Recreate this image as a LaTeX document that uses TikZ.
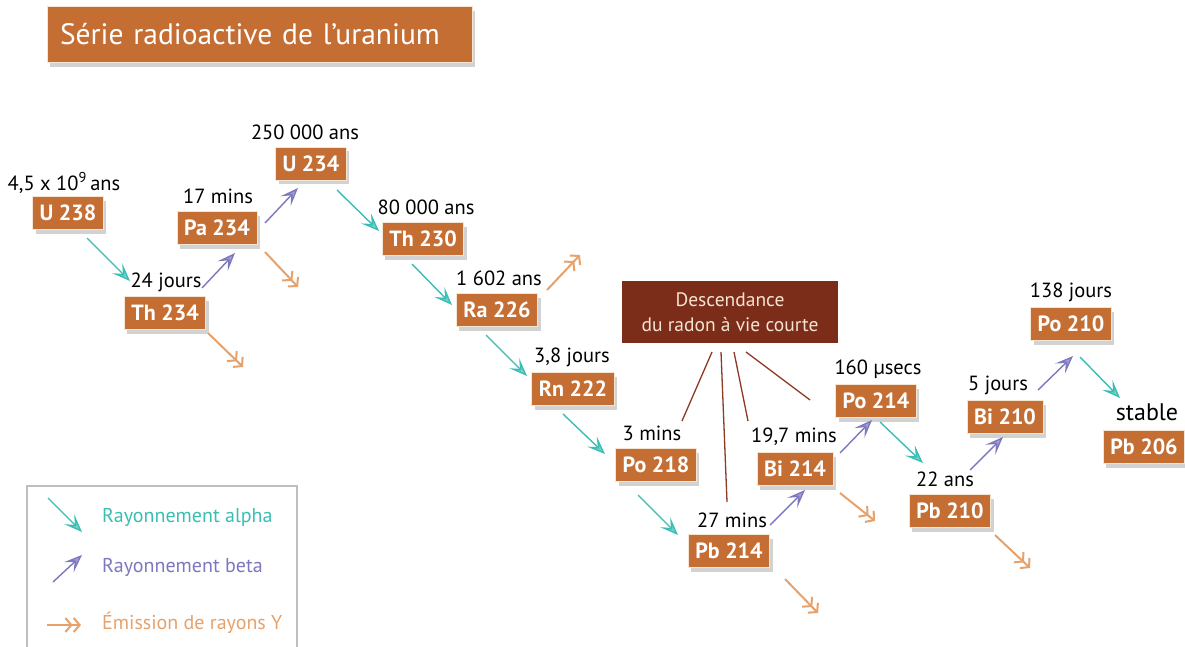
\documentclass[tikz,border=0pt]{standalone}
\usepackage{fontspec}
\setmainfont{PT Sans}
\usetikzlibrary{arrows.meta,shadows}
\definecolor{boxor}{RGB}{197,110,52}
\definecolor{boxedge}{RGB}{245,230,212}
\definecolor{descc}{RGB}{123,45,26}
\definecolor{desctext}{RGB}{245,228,210}
\definecolor{alphac}{RGB}{58,190,180}
\definecolor{betac}{RGB}{125,120,190}
\definecolor{gammac}{RGB}{230,162,108}
\definecolor{linkc}{RGB}{140,58,38}
\definecolor{legc}{RGB}{190,190,190}
\begin{document}
\begin{tikzpicture}[x=1pt,y=-1pt,
  iso/.style={fill=boxor, draw=boxedge, line width=0.8pt, text=white,
    font=\bfseries\fontsize{22}{24}\selectfont, minimum height=33pt, inner xsep=7pt,
    drop shadow={shadow xshift=3pt, shadow yshift=-4pt, opacity=0.35}},
  lab/.style={text=black, font=\fontsize{20.5}{24}\selectfont, inner sep=0pt},
  alpha/.style={draw=alphac, line width=1.4pt,
    -{Stealth[length=18pt,width=14pt,inset=8pt,fill=alphac!70]}},
  beta/.style={draw=betac, line width=1.4pt,
    -{Stealth[length=18pt,width=14pt,inset=8pt,fill=betac!70]}},
  gamma/.style={draw=gammac, line width=2pt,
    -{Straight Barb[length=6pt,width=14pt] Straight Barb[length=6pt,width=14pt]}},
  link/.style={draw=linkc, line width=1.3pt},
  legtext/.style={font=\fontsize{20}{24}\selectfont, anchor=west, inner sep=0pt}
]
\useasboundingbox (0,0) rectangle (1185,647);
\fill[white] (0,0) rectangle (1185,647);

% title
\node[fill=boxor, draw=boxedge, line width=0.8pt, text=white, minimum width=425pt,
  minimum height=56pt, text width=399pt, align=left, inner xsep=13pt,
  font=\fontsize{29.5}{34}\selectfont,
  drop shadow={shadow xshift=3pt, shadow yshift=-5pt, opacity=0.35}]
  (title) at (259.5,34) {Série radioactive de l’uranium};

% isotopes
\node[iso] (U238) at (68,213) {U 238};
\node[iso] (Th234) at (165,313) {Th 234};
\node[iso] (Pa234) at (217,228) {Pa 234};
\node[iso] (U234) at (311,164) {U 234};
\node[iso] (Th230) at (423,239) {Th 230};
\node[iso] (Ra226) at (497,310) {Ra 226};
\node[iso] (Rn222) at (573,389) {Rn 222};
\node[iso] (Po218) at (656,465) {Po 218};
\node[iso] (Pb214) at (729,551) {Pb 214};
\node[iso] (Bi214) at (795,469) {Bi 214};
\node[iso] (Po214) at (876,401) {Po 214};
\node[iso] (Pb210) at (950,511) {Pb 210};
\node[iso] (Bi210) at (1005,417) {Bi 210};
\node[iso] (Po210) at (1071,324) {Po 210};
\node[iso] (Pb206) at (1144,447) {Pb 206};

% half-lives
\node[lab] (lU238) at (64,183) {4,5 x 10\textsuperscript{9}\,ans};
\node[lab] (lTh234) at (166,282) {24 jours};
\node[lab] (lPa234) at (218,196) {17 mins};
\node[lab] (lU234) at (305,132) {250 000 ans};
\node[lab] (lTh230) at (426,207) {80 000 ans};
\node[lab] (lRa226) at (499,278) {1 602 ans};
\node[lab] (lRn222) at (572,357) {3,8 jours};
\node[lab] (lPo218) at (652,433) {3 mins};
\node[lab] (lPb214) at (732,520) {27 mins};
\node[lab] (lBi214) at (794,437) {19,7 mins};
\node[lab] (lPo214) at (878,369) {160 µsecs};
\node[lab] (lPb210) at (945,479) {22 ans};
\node[lab] (lBi210) at (998,385) {5 jours};
\node[lab] (lPo210) at (1071,292) {138 jours};
\node[lab, font=\fontsize{24}{28}\selectfont] (lPb206) at (1147,412) {stable};

% descendance box
\node[fill=descc, text=desctext, minimum width=216pt, minimum height=62pt,
  align=center, font=\fontsize{19.5}{25}\selectfont] (desc) at (730,312)
  {Descendance\\du radon à vie courte};

% link lines
\coordinate (k1s) at (712,352); \coordinate (k1e) at (682,421);
\coordinate (k2s) at (721,352); \coordinate (k2e) at (727,502);
\coordinate (k3s) at (734,352); \coordinate (k3e) at (748,421);
\coordinate (k4s) at (746,352); \coordinate (k4e) at (810,400);
\draw[link] (k1s) -- (k1e);
\draw[link] (k2s) -- (k2e);
\draw[link] (k3s) -- (k3e);
\draw[link] (k4s) -- (k4e);

% alpha arrows
\coordinate (a1s) at (87,238);   \coordinate (a1e) at (130,281);
\coordinate (a2s) at (337,190);  \coordinate (a2e) at (379,231);
\coordinate (a3s) at (412,264);  \coordinate (a3e) at (452,305);
\coordinate (a4s) at (486,335);  \coordinate (a4e) at (527,376);
\coordinate (a5s) at (563,414);  \coordinate (a5e) at (605,454);
\coordinate (a6s) at (638,495);  \coordinate (a6e) at (678,535);
\coordinate (a7s) at (880,422);  \coordinate (a7e) at (923,463);
\coordinate (a8s) at (1080,357); \coordinate (a8e) at (1120,398);
\foreach \i in {1,...,8} \draw[alpha] (a\i s) -- (a\i e);

% beta arrows
\coordinate (b1s) at (202,288);  \coordinate (b1e) at (235,253);
\coordinate (b2s) at (265,223);  \coordinate (b2e) at (298,188);
\coordinate (b3s) at (770,525);  \coordinate (b3e) at (805,490);
\coordinate (b4s) at (840,453);  \coordinate (b4e) at (872,420);
\coordinate (b5s) at (970,470);  \coordinate (b5e) at (1003,437);
\coordinate (b6s) at (1038,390); \coordinate (b6e) at (1073,356);
\foreach \i in {1,...,6} \draw[beta] (b\i s) -- (b\i e);

% gamma arrows
\coordinate (g1s) at (265,252);  \coordinate (g1e) at (298,287);
\coordinate (g2s) at (208,333);  \coordinate (g2e) at (243,367);
\coordinate (g3s) at (547,290);  \coordinate (g3e) at (580,255);
\coordinate (g4s) at (840,493);  \coordinate (g4e) at (875,521);
\coordinate (g5s) at (785,579);  \coordinate (g5e) at (818,613);
\coordinate (g6s) at (995,535);  \coordinate (g6e) at (1030,568);
\foreach \i in {1,...,6} \draw[gamma] (g\i s) -- (g\i e);

% legend
\draw[legc, line width=2.5pt] (27,660) -- (27,486) -- (297,486) -- (297,660);
\coordinate (la1) at (48,498); \coordinate (la2) at (82,532);
\coordinate (lb1) at (53,582); \coordinate (lb2) at (82,555);
\coordinate (lg1) at (47,625); \coordinate (lg2) at (81,625);
\draw[alpha] (la1) -- (la2);
\draw[beta] (lb1) -- (lb2);
\draw[gamma] (lg1) -- (lg2);
\node[legtext, text=alphac] (ta) at (102,517) {Rayonnement alpha};
\node[legtext, text=betac] (tb) at (102,567) {Rayonnement beta};
\node[legtext, text=gammac] (tg) at (102,623) {Émission de rayons Y};
\end{tikzpicture}
\end{document}
